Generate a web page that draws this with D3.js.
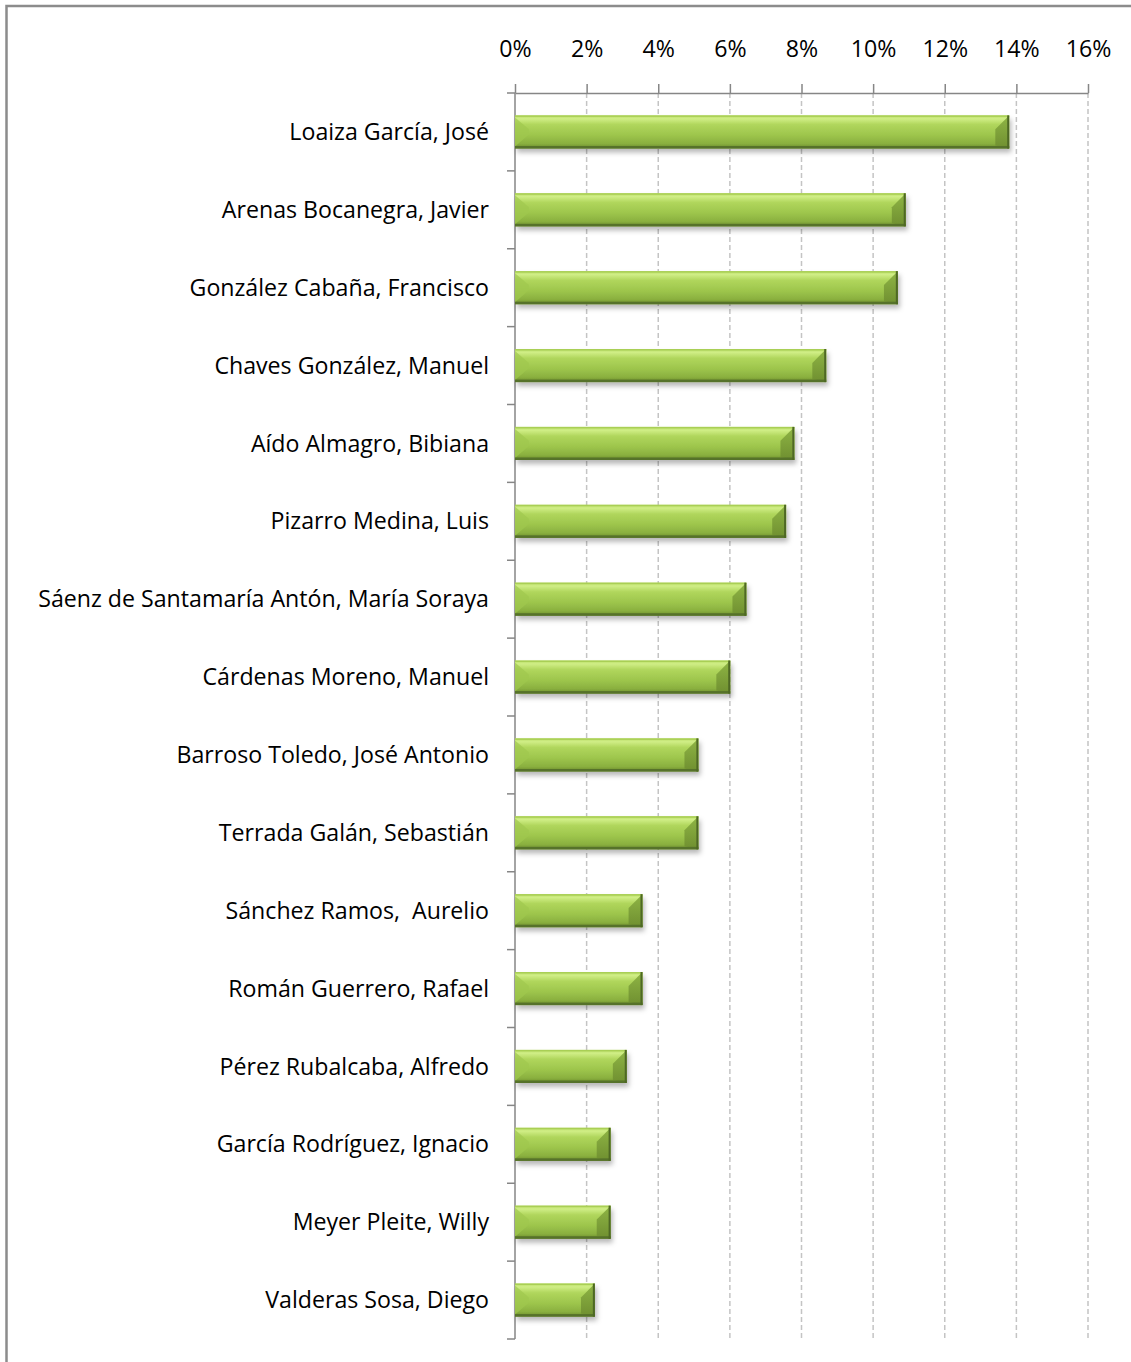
<!DOCTYPE html>
<html>
<head>
<meta charset="utf-8">
<script src="https://cdn.jsdelivr.net/npm/d3@7"></script>
<style>
  html, body { margin: 0; padding: 0; background: #fff; }
  svg { display: block; }
  text { font-family: "Open Sans", Lato, sans-serif; fill: #000; white-space: pre; }
</style>
</head>
<body>
<svg id="chart" width="1131" height="1362"></svg>
<script>
// data, top to bottom
const names = [
  "Loaiza García, José",
  "Arenas Bocanegra, Javier",
  "González Cabaña, Francisco",
  "Chaves González, Manuel",
  "Aído Almagro, Bibiana",
  "Pizarro Medina, Luis",
  "Sáenz de Santamaría Antón, María Soraya",
  "Cárdenas Moreno, Manuel",
  "Barroso Toledo, José Antonio",
  "Terrada Galán, Sebastián",
  "Sánchez Ramos,  Aurelio",
  "Román Guerrero, Rafael",
  "Pérez Rubalcaba, Alfredo",
  "García Rodríguez, Ignacio",
  "Meyer Pleite, Willy",
  "Valderas Sosa, Diego"
];
const shares = [13.8, 10.91, 10.69, 8.69, 7.8, 7.57, 6.46, 6.01, 5.12, 5.12, 3.56, 3.56, 3.12, 2.67, 2.67, 2.23];
const tickValues = [0, 2, 4, 6, 8, 10, 12, 14, 16];

const svg = d3.select('#chart');

// outer frame
svg.append('rect')
  .attr('x', 6.5).attr('y', 6)
  .attr('width', 1300).attr('height', 1500)
  .attr('fill', 'none')
  .attr('stroke', '#8c8c8c')
  .attr('stroke-width', 2.5);

const x = d3.scaleLinear().domain([0, 16]).range([515, 1088]);
const y = d3.scaleBand().domain(names).range([93, 1339]).paddingInner(0.575).paddingOuter(0.2875);

const defs = svg.append('defs');

const grad = defs.append('linearGradient').attr('id', 'barFill')
  .attr('x1', 0).attr('y1', 0).attr('x2', 0).attr('y2', 1);
[[0, '#b9dc66'], [0.1, '#d0ee86'], [0.28, '#b0d65c'], [0.6, '#9dc54c'], [0.85, '#8ab03f'], [1, '#6a8a2c']]
  .forEach(([o, c]) => grad.append('stop').attr('offset', o).attr('stop-color', c));

const endGrad = defs.append('linearGradient').attr('id', 'endFill')
  .attr('x1', 0).attr('y1', 0).attr('x2', 0).attr('y2', 1);
[[0, '#8fb545'], [1, '#6f8f30']]
  .forEach(([o, c]) => endGrad.append('stop').attr('offset', o).attr('stop-color', c));

const shadow = defs.append('filter').attr('id', 'shadow')
  .attr('x', '-10%').attr('y', '-30%').attr('width', '130%').attr('height', '190%');
shadow.append('feDropShadow')
  .attr('dx', 2).attr('dy', 4).attr('stdDeviation', 2.5)
  .attr('flood-color', '#000').attr('flood-opacity', 0.28);

// gridlines
svg.append('g')
  .selectAll('line')
  .data(tickValues.slice(1))
  .join('line')
  .attr('x1', d => x(d)).attr('x2', d => x(d))
  .attr('y1', 93).attr('y2', 1339)
  .attr('stroke', '#c4c4c4')
  .attr('stroke-width', 1.5)
  .attr('stroke-dasharray', '5,3');

// labels first, so the font size can be fitted to the longest one
const labels = svg.append('g').selectAll('text')
  .data(names)
  .join('text')
  .attr('x', 489)
  .attr('y', d => y(d) + y.bandwidth() / 2)
  .attr('dy', '0.35em')
  .attr('text-anchor', 'end')
  .attr('font-size', 20)
  .text(d => d);

const longest = d3.max(labels.nodes(), n => n.getComputedTextLength());
const fontSize = 20 * 451 / longest;
labels.attr('font-size', fontSize);

// top axis
const xAxis = svg.append('g')
  .attr('transform', 'translate(0,93)')
  .call(d3.axisTop(x).tickValues(tickValues).tickFormat(d => d + '%').tickSize(9).tickSizeOuter(0).tickPadding(27));
xAxis.select('.domain').attr('stroke', '#868686').attr('stroke-width', 1.5);
xAxis.selectAll('.tick line').attr('stroke', '#868686').attr('stroke-width', 1.5);
xAxis.selectAll('.tick text')
  .attr('font-size', fontSize)
  .attr('fill', '#000')
  .style('font-family', '"Open Sans", Lato, sans-serif');

// left axis (category boundaries)
const bounds = d3.range(names.length + 1).map(i => 93 + i * (1339 - 93) / names.length);
svg.append('line')
  .attr('x1', 515).attr('x2', 515).attr('y1', 93).attr('y2', 1339)
  .attr('stroke', '#868686').attr('stroke-width', 1.5);
svg.append('g').selectAll('line')
  .data(bounds)
  .join('line')
  .attr('x1', 507).attr('x2', 515)
  .attr('y1', d => d).attr('y2', d => d)
  .attr('stroke', '#868686').attr('stroke-width', 1.5);

// bars
const bars = svg.append('g').selectAll('g')
  .data(names.map((n, i) => ({ name: n, value: shares[i] })))
  .join('g')
  .attr('transform', d => `translate(${x(0)},${y(d.name)})`);

const h = y.bandwidth();
const bev = h * 0.42;

bars.append('rect')
  .attr('width', d => x(d.value) - x(0))
  .attr('height', h)
  .attr('fill', 'url(#barFill)')
  .attr('filter', 'url(#shadow)');

// left bevel (lighter wedge)
bars.append('path')
  .attr('d', `M0,2 L${bev},${bev} L${bev},${h - bev} L0,${h - 2} Z`)
  .attr('fill', '#9fc84f')
  .attr('opacity', 0.7);

// right bevel (darker wedge)
bars.append('path')
  .attr('d', d => {
    const w = x(d.value) - x(0);
    return `M${w},0 L${w - bev},${bev} L${w - bev},${h - 3} L${w},${h} Z`;
  })
  .attr('fill', 'url(#endFill)');

// top highlight and bottom/right dark edges
bars.append('rect')
  .attr('width', d => x(d.value) - x(0))
  .attr('height', 1.5)
  .attr('fill', '#a9cf55');
bars.append('rect')
  .attr('y', h - 2.5)
  .attr('width', d => x(d.value) - x(0))
  .attr('height', 2.5)
  .attr('fill', '#56722a');
bars.append('rect')
  .attr('x', d => x(d.value) - x(0) - 2)
  .attr('width', 2)
  .attr('height', h)
  .attr('fill', '#4e6824');
</script>
</body>
</html>
